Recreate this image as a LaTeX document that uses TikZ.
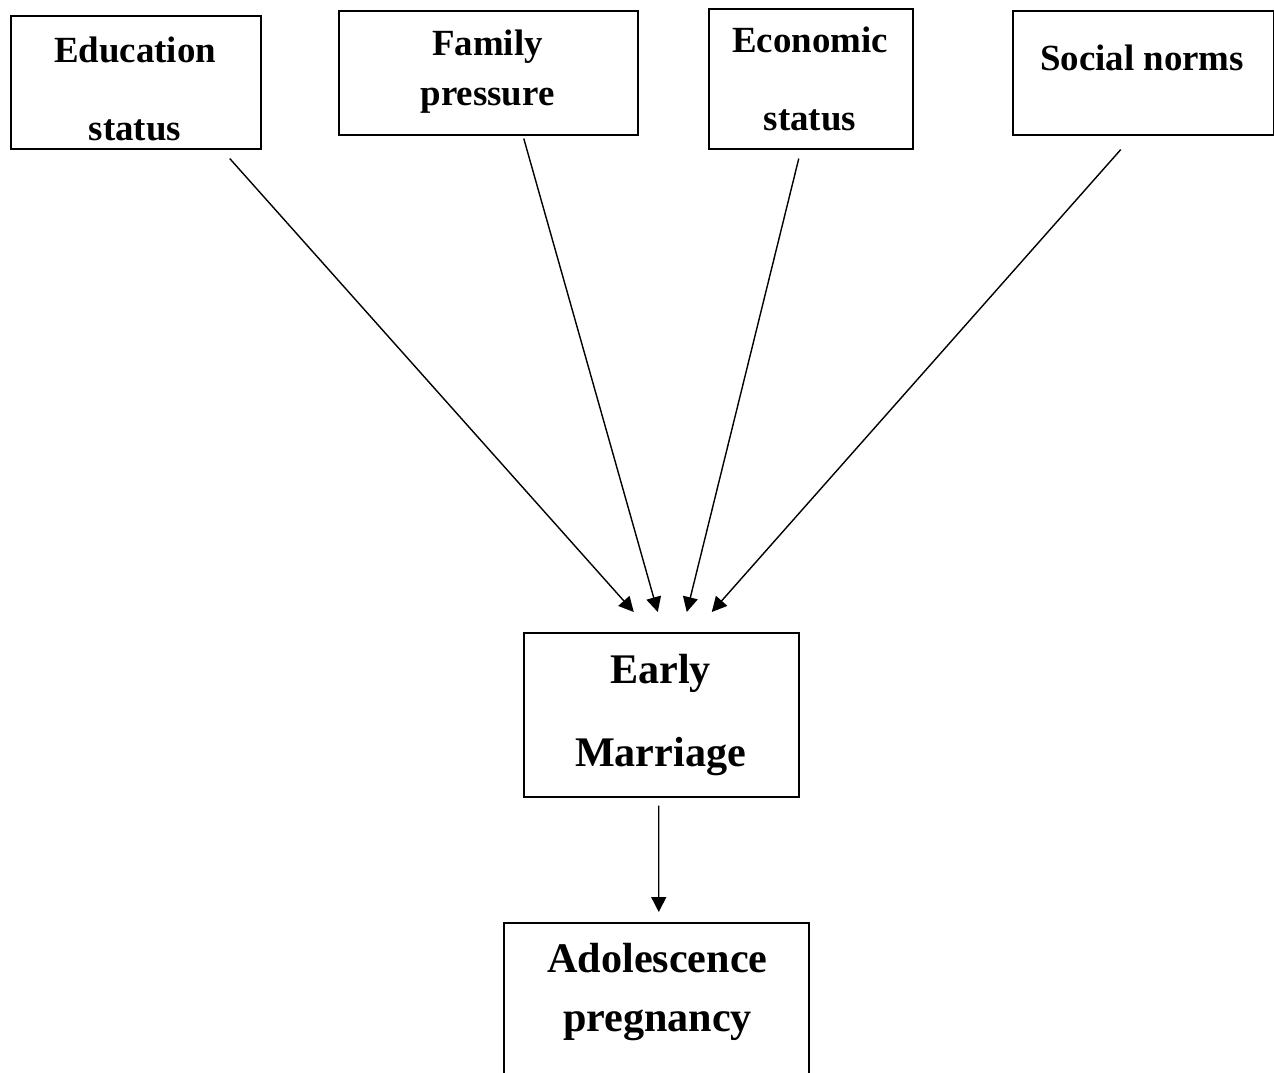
\documentclass[tikz,border=0pt]{standalone}
\usepackage{fontspec}
\setmainfont{Liberation Serif}
\usepackage{tikz}
\usetikzlibrary{arrows.meta, positioning, calc}

\begin{document}
\begin{tikzpicture}[x=0.02cm, y=-0.02cm, >={Triangle[length=8.5pt,width=8.5pt]},
    box/.style={draw, line width=0.9pt, inner sep=0pt, anchor=north west},
    lbl/.style={font=\bfseries\fontsize{21}{44}\selectfont, align=center},
    biglbl/.style={font=\bfseries\fontsize{24}{47}\selectfont, align=center},
    link/.style={->, line width=0.8pt}]
    \useasboundingbox (0,0) rectangle (1274,1072);
    % Faktory
    \node[box, minimum width=5cm, minimum height=2.66cm] (edu) at (10,15) {};
    \node[box, minimum width=5.98cm, minimum height=2.48cm] (fam) at (338,10) {};
    \node[box, minimum width=4.08cm, minimum height=2.8cm] (econ) at (708,8) {};
    \node[box, minimum width=5.22cm, minimum height=2.48cm] (soc) at (1012,10) {};
    \node[lbl] (edutxt) at (135,89) {Education\\status};
    \node[lbl, font=\bfseries\fontsize{21}{28.5}\selectfont] (famtxt) at (487.5,71.5) {Family\\pressure};
    \node[lbl] (econtxt) at (810,79) {Economic\\status};
    \node[lbl] (soctxt) at (1142,58) {Social norms};
    % Early marriage
    \node[box, minimum width=5.5cm, minimum height=3.28cm] (early) at (523,632) {};
    \node[biglbl] (earlytxt) at (660.5,715) {Early\\Marriage};
    % Pregnancy
    \node[box, minimum width=6.1cm, minimum height=3.4cm] (adol) at (503,922) {};
    \node[biglbl, font=\bfseries\fontsize{24}{33.6}\selectfont] (adoltxt) at (657.5,992) {Adolescence\\pregnancy};
    % Arrows
    \coordinate (eduout) at ($(edu.south)+(94,9)$);
    \coordinate (famout) at ($(fam.south)+(35.5,3)$);
    \coordinate (econout) at ($(econ.south)+(-12,9)$);
    \coordinate (socout) at ($(soc.south)+(-22.5,14)$);
    \coordinate (in1) at ($(early.north)+(-27.5,-20)$);
    \coordinate (in2) at ($(early.north)+(-3.5,-20)$);
    \coordinate (in3) at ($(early.north)+(25.5,-20)$);
    \coordinate (in4) at ($(early.north)+(50.5,-20)$);
    \draw[link] (eduout) -- (in1);
    \draw[link] (famout) -- (in2);
    \draw[link] (econout) -- (in3);
    \draw[link] (socout) -- (in4);
    \coordinate (earlyout) at ($(early.south)+(-2.5,8)$);
    \coordinate (adolin) at ($(adol.north)+(2.5,-10)$);
    \draw[link] (earlyout) -- (adolin);
\end{tikzpicture}
\end{document}
